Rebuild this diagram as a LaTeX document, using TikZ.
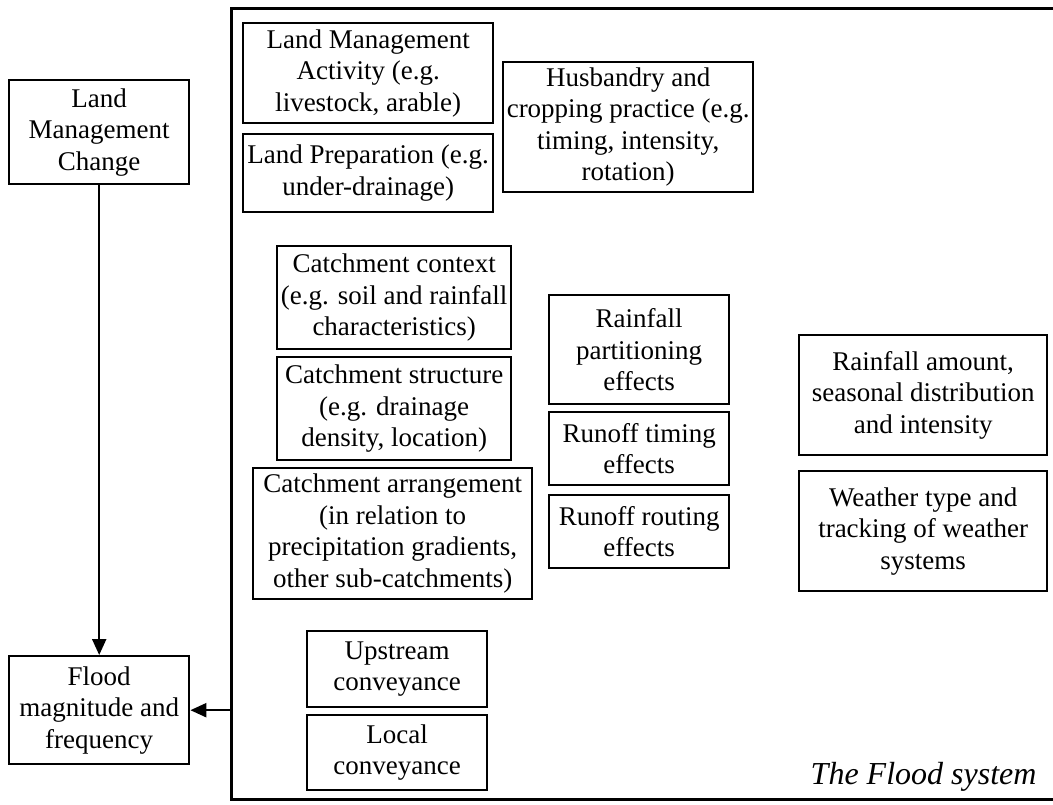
\documentclass[tikz,border=0pt]{standalone}
\usepackage{fontspec}
\setmainfont{Liberation Serif}
\usetikzlibrary{arrows.meta, positioning}

\begin{document}
\begin{tikzpicture}[x=1pt,y=-1pt,>={Triangle[length=16pt,width=14pt]},
    box/.style={draw,line width=2.4pt,align=center,inner sep=0pt,anchor=north west,
                font=\fontsize{27}{31.5}\selectfont},
    link/.style={->,line width=2.2pt}]
  \useasboundingbox (0,0) rectangle (1053,805);
  % ---- the flood system frame ----
  \node[draw,line width=2.8pt,inner sep=0pt,anchor=north west,
        minimum width=840pt,minimum height=791pt] (system) at (230,7) {};
  \node[anchor=base east,font=\fontsize{32}{36}\selectfont\itshape] (title)
    at (1040,784) {The Flood system};
  % ---- left column ----
  \node[box,minimum width=180pt,minimum height=104pt] (lmc) at (8,79)
    {Land\\Management\\Change};
  \node[box,minimum width=180pt,minimum height=108pt] (flood) at (8,655)
    {Flood\\magnitude and\\frequency};
  % ---- land management ----
  \node[box,minimum width=250pt,minimum height=100pt] (activity) at (242,22)
    {Land Management\\Activity (e.g.\\livestock, arable)};
  \node[box,minimum width=250pt,minimum height=78pt] (prep) at (242,133)
    {Land Preparation (e.g.\\under-drainage)};
  \node[box,minimum width=250pt,minimum height=130pt] (husbandry) at (502,61)
    {Husbandry and\\cropping practice (e.g.\\timing, intensity,\\rotation)};
  % ---- catchment ----
  \node[box,minimum width=234pt,minimum height=103pt] (context) at (276,245)
    {Catchment context\\(e.g. soil and rainfall\\characteristics)};
  \node[box,minimum width=234pt,minimum height=103pt] (structure) at (276,356)
    {Catchment structure\\(e.g. drainage\\density, location)};
  \node[box,minimum width=279pt,minimum height=131pt] (arrange) at (252,467)
    {Catchment arrangement\\(in relation to\\precipitation gradients,\\other sub-catchments)};
  % ---- effects ----
  \node[box,minimum width=180pt,minimum height=109pt] (partition) at (548,294)
    {Rainfall\\partitioning\\effects};
  \node[box,minimum width=180pt,minimum height=73pt] (timing) at (548,411)
    {Runoff timing\\effects};
  \node[box,minimum width=180pt,minimum height=73pt] (routing) at (548,494)
    {Runoff routing\\effects};
  % ---- climate ----
  \node[box,minimum width=248pt,minimum height=120pt] (amount) at (798,334)
    {Rainfall amount,\\seasonal distribution\\and intensity};
  \node[box,minimum width=248pt,minimum height=120pt] (weather) at (798,470)
    {Weather type and\\tracking of weather\\systems};
  % ---- conveyance ----
  \node[box,minimum width=180pt,minimum height=76pt] (upstream) at (306,630)
    {Upstream\\conveyance};
  \node[box,minimum width=180pt,minimum height=75pt] (local) at (306,714)
    {Local\\conveyance};
  % ---- links ----
  \draw[link] (lmc) -- (flood);
  \draw[link] (system.west |- flood.east) -- (flood.east);
\end{tikzpicture}
\end{document}
